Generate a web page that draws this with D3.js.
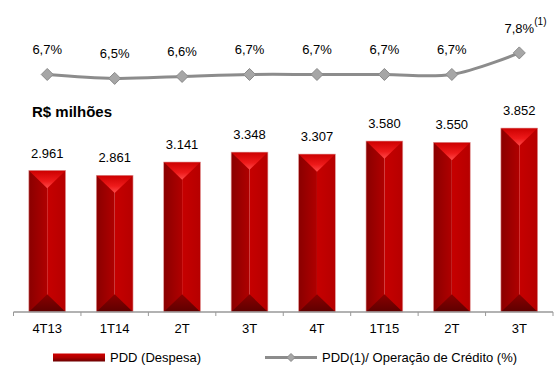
<!DOCTYPE html>
<html>
<head>
<meta charset="utf-8">
<script src="https://cdn.jsdelivr.net/npm/d3@7/dist/d3.min.js"></script>
<style>
  html, body { margin: 0; padding: 0; background: #ffffff; }
  svg { display: block; font-family: "Liberation Sans", Arial, sans-serif; }
</style>
</head>
<body>
<div id="chart"></div>
<script>
// PDD chart: red bars (R$ milhões) + gray ratio line on top

const categories = ['4T13', '1T14', '2T', '3T', '4T', '1T15', '2T', '3T'];
const pddValues = [2961, 2861, 3141, 3348, 3307, 3580, 3550, 3852];
const pddLabels = ['2.961', '2.861', '3.141', '3.348', '3.307', '3.580', '3.550', '3.852'];
const ratioValues = [6.7, 6.5, 6.6, 6.7, 6.7, 6.7, 6.7, 7.8];
const ratioLabels = ['6,7%', '6,5%', '6,6%', '6,7%', '6,7%', '6,7%', '6,7%', '7,8%'];

const width = 556, height = 365;
const axisY = 312;

const svg = d3.select('#chart').append('svg')
    .attr('width', width)
    .attr('height', height);

const defs = svg.append('defs');

function linGrad(id, x2, y2, stops) {
    const g = defs.append('linearGradient')
        .attr('id', id)
        .attr('x1', 0).attr('y1', 0)
        .attr('x2', x2).attr('y2', y2);
    stops.forEach(s => g.append('stop').attr('offset', s[0]).attr('stop-color', s[1]));
}
linGrad('leftHalf', 1, 0, [[0, '#8a0000'], [1, '#b00000']]);
linGrad('rightHalf', 1, 0, [[0, '#c60000'], [1, '#b60000']]);
linGrad('topTri', 0, 1, [[0, '#cc0000'], [0.6, '#ee1a1a'], [1, '#ff4a4a']]);
linGrad('botTri', 0, 1, [[0, '#8a0000'], [1, '#5e0000']]);
linGrad('legendSwatch', 0, 1, [[0, '#d00000'], [0.5, '#b00000'], [1, '#6a0000']]);

// 1. Scales
const x = d3.scaleBand()
    .domain(d3.range(categories.length))
    .range([13.5, 553])
    .paddingInner(0.455)
    .paddingOuter(0.2275);

const y = d3.scaleLinear()
    .domain([0, 4000])
    .range([axisY, 121]);

const yr = d3.scaleLinear()
    .domain([6, 8])
    .range([88.2, 49]);

const bw = x.bandwidth();
const cx = i => x(i) + bw / 2;

// 2. Bars
const bars = svg.append('g').attr('class', 'bars')
    .selectAll('g')
    .data(pddValues)
    .join('g');

bars.append('rect')
    .attr('x', (d, i) => x(i))
    .attr('y', d => y(d))
    .attr('width', bw / 2)
    .attr('height', d => axisY - y(d))
    .attr('fill', 'url(#leftHalf)');

bars.append('rect')
    .attr('x', (d, i) => cx(i))
    .attr('y', d => y(d))
    .attr('width', bw / 2)
    .attr('height', d => axisY - y(d))
    .attr('fill', 'url(#rightHalf)');

const tri = bw * 0.48;
bars.append('path')
    .attr('d', (d, i) => 'M' + x(i) + ',' + y(d) + 'L' + (x(i) + bw) + ',' + y(d) +
        'L' + cx(i) + ',' + (y(d) + tri) + 'Z')
    .attr('fill', 'url(#topTri)');

bars.append('path')
    .attr('d', (d, i) => 'M' + x(i) + ',' + axisY + 'L' + (x(i) + bw) + ',' + axisY +
        'L' + cx(i) + ',' + (axisY - tri) + 'Z')
    .attr('fill', 'url(#botTri)');

bars.append('rect')
    .attr('x', (d, i) => x(i))
    .attr('y', d => y(d))
    .attr('width', bw)
    .attr('height', d => axisY - y(d))
    .attr('fill', 'none')
    .attr('stroke', '#e39a9a')
    .attr('stroke-width', 0.6);

// value labels
svg.append('g').selectAll('text')
    .data(pddValues)
    .join('text')
    .attr('x', (d, i) => cx(i))
    .attr('y', d => y(d) - 13)
    .attr('text-anchor', 'middle')
    .attr('font-size', '13px')
    .attr('fill', '#000')
    .text((d, i) => pddLabels[i]);

// 3. Category axis
const axisG = svg.append('g');
axisG.append('line')
    .attr('x1', x.range()[0]).attr('x2', x.range()[1])
    .attr('y1', axisY).attr('y2', axisY)
    .attr('stroke', '#999').attr('stroke-width', 1.5);

const tickXs = d3.range(categories.length + 1).map(i => x.range()[0] + i * x.step());
axisG.selectAll('.tick')
    .data(tickXs)
    .join('line')
    .attr('x1', d => d).attr('x2', d => d)
    .attr('y1', axisY).attr('y2', axisY + 4)
    .attr('stroke', '#999').attr('stroke-width', 1);

axisG.selectAll('text')
    .data(categories)
    .join('text')
    .attr('x', (d, i) => cx(i))
    .attr('y', 333)
    .attr('text-anchor', 'middle')
    .attr('font-size', '13px')
    .attr('fill', '#000')
    .text(d => d);

// 4. Ratio line
const line = d3.line()
    .x((d, i) => cx(i))
    .y(d => yr(d))
    .curve(d3.curveCatmullRom.alpha(0.5));

svg.append('path')
    .datum(ratioValues)
    .attr('d', line)
    .attr('fill', 'none')
    .attr('stroke', '#8c8c8c')
    .attr('stroke-width', 3);

const dm = 6;
svg.append('g').selectAll('path')
    .data(ratioValues)
    .join('path')
    .attr('d', (d, i) => {
        const px = cx(i), py = yr(d);
        return 'M' + px + ',' + (py - dm) + 'L' + (px + dm) + ',' + py +
            'L' + px + ',' + (py + dm) + 'L' + (px - dm) + ',' + py + 'Z';
    })
    .attr('fill', '#a6a6a6')
    .attr('stroke', '#8a8a8a')
    .attr('stroke-width', 1);

svg.append('g').selectAll('text')
    .data(ratioValues)
    .join('text')
    .attr('x', (d, i) => cx(i))
    .attr('y', d => yr(d) - 20)
    .attr('text-anchor', 'middle')
    .attr('font-size', '13px')
    .attr('fill', '#000')
    .text((d, i) => ratioLabels[i]);

// footnote marker on last point
const last = ratioValues.length - 1;
svg.append('text')
    .attr('x', cx(last) + 15)
    .attr('y', yr(ratioValues[last]) - 28)
    .attr('font-size', '10px')
    .attr('fill', '#000')
    .text('(1)');

// 5. Unit title
svg.append('text')
    .attr('x', 32)
    .attr('y', 117)
    .attr('font-size', '15px')
    .attr('font-weight', 'bold')
    .attr('fill', '#000')
    .text('R$ milhões');

// 6. Legend
const legend = svg.append('g');
legend.append('rect')
    .attr('x', 53).attr('y', 353.5)
    .attr('width', 52).attr('height', 8)
    .attr('fill', 'url(#legendSwatch)');
legend.append('text')
    .attr('x', 110).attr('y', 362)
    .attr('font-size', '13px')
    .text('PDD (Despesa)');

legend.append('line')
    .attr('x1', 265).attr('x2', 317)
    .attr('y1', 357.5).attr('y2', 357.5)
    .attr('stroke', '#8c8c8c').attr('stroke-width', 3);
legend.append('path')
    .attr('d', 'M291,353.5L295,357.5L291,361.5L287,357.5Z')
    .attr('fill', '#a6a6a6')
    .attr('stroke', '#8a8a8a');
legend.append('text')
    .attr('x', 322).attr('y', 362)
    .attr('font-size', '13px')
    .text('PDD(1)/ Operação de Crédito (%)');
</script>
</body>
</html>
